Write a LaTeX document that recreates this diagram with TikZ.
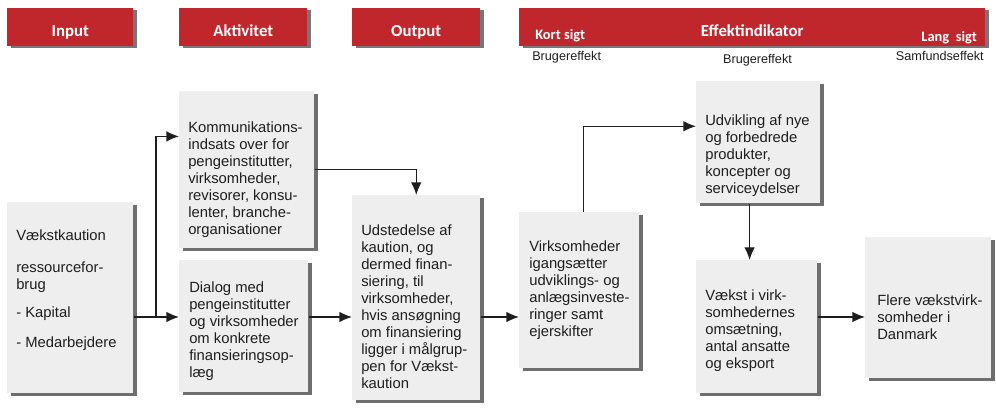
\documentclass[tikz,border=0pt]{standalone}
\usepackage{fontspec}
\setmainfont{Liberation Sans}
\newfontfamily\hdrfont{Carlito}
\usepackage{tikz}
\usetikzlibrary{shapes, calc, arrows.meta, shadows, positioning}

\definecolor{hdrred}{RGB}{192,39,45}
\definecolor{hdrshade}{RGB}{119,118,122}
\definecolor{boxfill}{RGB}{238,238,238}
\definecolor{boxshade}{RGB}{110,110,110}
\definecolor{txtgray}{RGB}{30,30,30}

\tikzset{
  hdr/.style={rectangle, fill=hdrred, anchor=north west, inner sep=0pt, minimum height=28.5pt,
    text=white, font=\hdrfont\bfseries\fontsize{12.6}{14}\selectfont, text height=14pt, text depth=0pt,
    general shadow={shadow xshift=3pt, shadow yshift=-1.5pt, fill=hdrshade}},
  hdrsmall/.style={inner sep=0pt, text=white, font=\hdrfont\bfseries\fontsize{10.8}{12}\selectfont},
  flowbox/.style={rectangle, fill=boxfill, anchor=north west, inner sep=0pt,
    general shadow={shadow xshift=3pt, shadow yshift=-2.25pt, fill=boxshade}},
  boxtext/.style={anchor=north west, inner sep=0pt, align=left, text=txtgray,
    font=\fontsize{11.1}{12.75}\selectfont},
  sublabel/.style={inner sep=0pt, text=txtgray, font=\fontsize{9.5}{11}\selectfont},
  flow/.style={->, line width=1pt, draw=txtgray}
}

\begin{document}
\begin{tikzpicture}[x=0.75pt, y=-0.75pt, >={Latex[length=9.5pt, width=8pt]}]
\useasboundingbox (0,0) rectangle (996,409);

% header row
\node[hdr, minimum width=94.5pt] (hin) at (7,8) {Input};
\node[hdr, minimum width=96pt] (hakt) at (179,8) {Aktivitet};
\node[hdr, minimum width=96pt] (hout) at (352,8) {Output};
\node[hdr, minimum width=349.5pt] (heff) at (519,8) {Effektindikator};
\node[hdrsmall, anchor=base west] (kort) at (535,40) {Kort sigt};
\node[hdrsmall, anchor=base east] (lang) at (977,42) {Lang\ \ sigt};

\node[sublabel, anchor=base west] (bru1) at (532,61) {Brugereffekt};
\node[sublabel, anchor=base] (bru2) at (757.5,64) {Brugereffekt};
\node[sublabel, anchor=base east] (samf) at (984,61) {Samfundseffekt};

% boxes
\node[flowbox, minimum width=94.5pt, minimum height=143.25pt] (inp) at (7,202) {};
\node[boxtext] (inp-t) at (16,230) {Vækstkaution\\[11pt]ressourcefor-\\brug\\[8.5pt]- Kapital\\[9.5pt]- Medarbejdere};

\node[flowbox, minimum width=101.25pt, minimum height=117.75pt] (komm) at (179,91) {};
\node[boxtext] (komm-t) at (188,122) {Kommunikations-\\indsats over for\\pengeinstitutter,\\virksomheder,\\revisorer, konsu-\\lenter, branche-\\organisationer};

\node[flowbox, minimum width=96.75pt, minimum height=99pt] (dial) at (179,260) {};
\node[boxtext] (dial-t) at (189,282) {Dialog med\\pengeinstitutter\\og virksomheder\\om konkrete\\finansieringsop-\\læg};

\node[flowbox, minimum width=96pt, minimum height=153.75pt] (udst) at (352,195) {};
\node[boxtext] (udst-t) at (361,225) {Udstedelse af\\kaution, og\\dermed finan-\\siering, til\\virksomheder,\\hvis ansøgning\\om finansiering\\ligger i målgrup-\\pen for Vækst-\\kaution};

\node[flowbox, minimum width=90pt, minimum height=117pt] (virk) at (519,212) {};
\node[boxtext] (virk-t) at (529,241) {Virksomheder\\igangsætter\\udviklings- og\\anlægsinveste-\\ringer samt\\ejerskifter};

\node[flowbox, minimum width=93pt, minimum height=91.5pt] (udv) at (696,81) {};
\node[boxtext] (udv-t) at (705,115) {Udvikling af nye\\og forbedrede\\produkter,\\koncepter og\\serviceydelser};

\node[flowbox, minimum width=90.75pt, minimum height=99.75pt] (vaekst) at (696,260) {};
\node[boxtext] (vaekst-t) at (705,290) {Vækst i virk-\\somhedernes\\omsætning,\\antal ansatte\\og eksport};

\node[flowbox, minimum width=94.5pt, minimum height=105.75pt] (flere) at (865,237) {};
\node[boxtext] (flere-t) at (877,295) {Flere vækstvirk-\\somheder i\\Danmark};

% connectors
\coordinate (split) at (156,317);
\draw[flow] (inp.east |- split) -- (dial.west |- split);
\draw[flow] (split) |- ([yshift=25pt]komm.west);
\draw[flow] (komm.east) -| (udst.north);
\draw[flow] (dial.east |- split) -- (udst.west |- split);
\draw[flow] (udst.east |- split) -- (virk.west |- split);
\draw[flow] ([xshift=3pt]virk.north) |- ([yshift=12pt]udv.west);
\draw[flow] ([xshift=-6.5pt]udv.south) -- ([xshift=-6.5pt]udv.south |- vaekst.north);
\draw[flow] (vaekst.east |- split) -- (flere.west |- split);

\end{tikzpicture}
\end{document}
